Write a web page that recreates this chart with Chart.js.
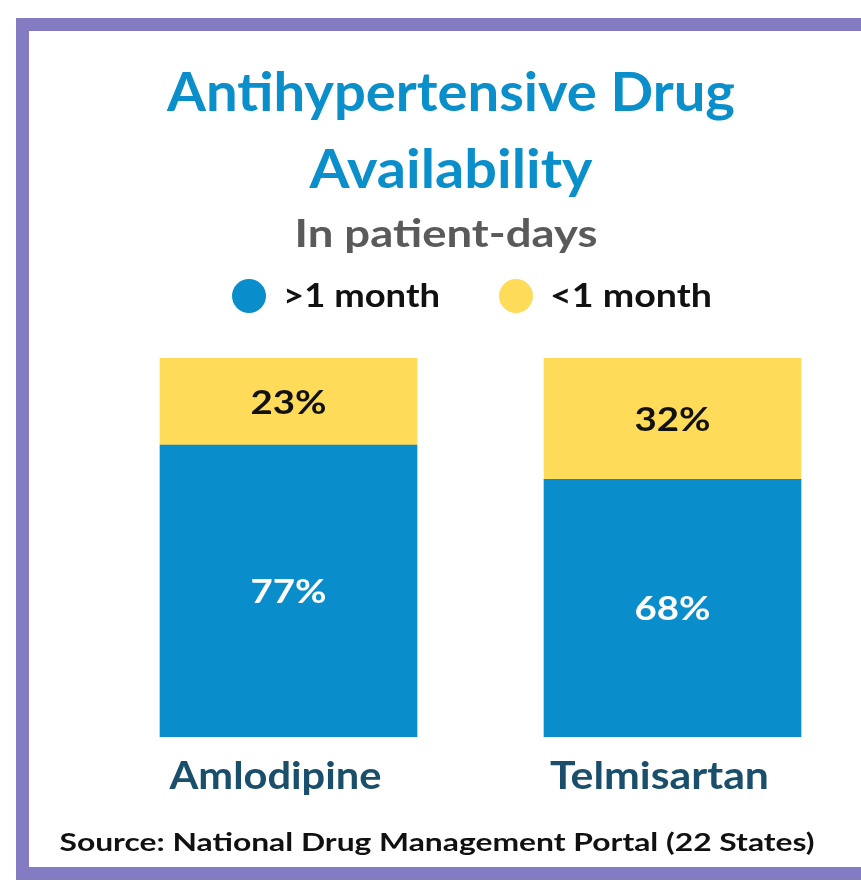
<!DOCTYPE html>
<html>
<head>
<meta charset="utf-8">
<script src="https://cdn.jsdelivr.net/npm/chart.js@4"></script>
<style>
  body { margin: 0; width: 861px; height: 885px; overflow: hidden; background: #fff; }
  #frame { position: absolute; left: 16px; top: 18px; width: 900px; height: 862px;
           border: 13px solid #837cc3; box-sizing: border-box; }
  #wrap { position: absolute; left: 0; top: 0; width: 900px; height: 885px; }
</style>
</head>
<body>
<div id="frame"></div>
<div id="wrap"><canvas id="drugChart" width="900" height="885"></canvas></div>
<script>
const drugs = ["Amlodipine", "Telmisartan"];
const overMonth = [77, 68];
const underMonth = [23, 32];
const seriesNames = [">1 month", "<1 month"];

const BLUE = "#0a8dcb";
const YELLOW = "#ffdb5a";
const FONT = "Lato, 'Open Sans', sans-serif";

// draw text centred at (cx, cy), stretched sideways to a given width
function fitText(ctx, text, cx, cy, size, width, color) {
    ctx.save();
    ctx.font = "bold " + size + "px " + FONT;
    ctx.fillStyle = color;
    ctx.textAlign = "center";
    ctx.textBaseline = "middle";
    const w = ctx.measureText(text).width;
    ctx.translate(cx, cy);
    ctx.scale(width ? width / w : 1.2, 1);
    ctx.fillText(text, 0, 0);
    ctx.restore();
}

const overlay = {
    id: "overlay",
    afterDatasetsDraw(chart) {
        const ctx = chart.ctx;

        // segment labels
        chart.data.datasets.forEach((ds, i) => {
            chart.getDatasetMeta(i).data.forEach((bar, j) => {
                const mid = (bar.y + bar.base) / 2;
                fitText(ctx, ds.data[j] + "%", bar.x, mid + 2, 32, null,
                    i === 0 ? "#ffffff" : "#111111");
            });
        });

        // titles
        fitText(ctx, "Antihypertensive Drug", 451, 94, 54, 568, "#0a8fcb");
        fitText(ctx, "Availability", 451, 171, 54, 283, "#0a8fcb");
        fitText(ctx, "In patient-days", 446, 234, 39, 303, "#5a5a5a");

        // legend
        const legendItems = [
            { x: 249, color: BLUE, w: 157 },
            { x: 516, color: YELLOW, w: 162 }
        ];
        legendItems.forEach((item, i) => {
            ctx.beginPath();
            ctx.arc(item.x, 296, 17, 0, Math.PI * 2);
            ctx.fillStyle = item.color;
            ctx.fill();
            fitText(ctx, seriesNames[i], item.x + 34 + item.w / 2, 297, 32, item.w, "#111111");
        });

        // category labels under the bars
        const xs = chart.scales.x;
        const catWidths = [212, 219];
        drugs.forEach((d, i) => {
            fitText(ctx, d, xs.getPixelForValue(i) - 13, 777, 38, catWidths[i], "#1a4f6b");
        });

        // source
        fitText(ctx, "Source: National Drug Management Portal (22 States)", 437, 843, 25, 755, "#111111");
    }
};

new Chart(document.getElementById("drugChart"), {
    type: "bar",
    data: {
        labels: drugs,
        datasets: [
            { label: seriesNames[0], data: overMonth, backgroundColor: BLUE },
            { label: seriesNames[1], data: underMonth, backgroundColor: YELLOW }
        ]
    },
    options: {
        responsive: false,
        animation: false,
        events: [],
        layout: { padding: { left: 96.5, right: 35.5, top: 358, bottom: 148 } },
        datasets: { bar: { barThickness: 257, borderWidth: 0 } },
        plugins: { legend: { display: false }, tooltip: { enabled: false } },
        scales: {
            x: { stacked: true, display: false },
            y: { stacked: true, display: false, min: 0, max: 100 }
        }
    },
    plugins: [overlay]
});
</script>
</body>
</html>
